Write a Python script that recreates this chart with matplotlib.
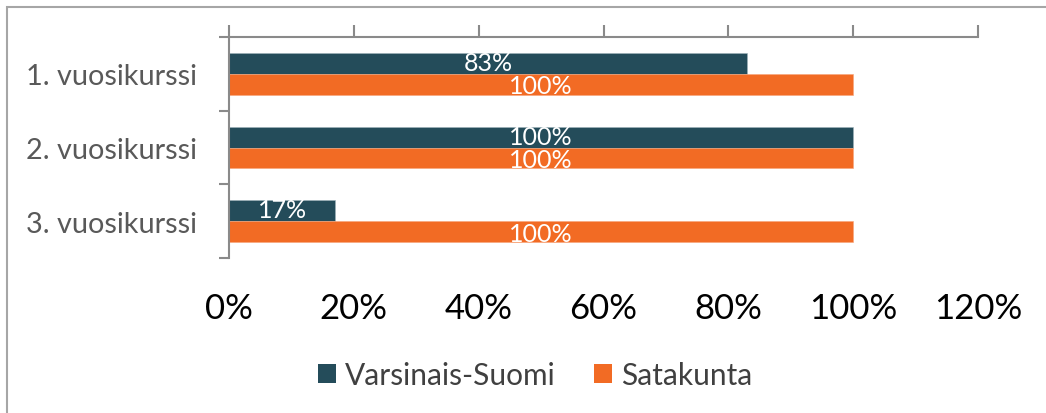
import matplotlib
matplotlib.use("Agg")
import matplotlib.pyplot as plt
from matplotlib.patches import Rectangle
import numpy as np

categories = ["1. vuosikurssi", "2. vuosikurssi", "3. vuosikurssi"]
series_names = ["Varsinais-Suomi", "Satakunta"]
varsinais = [0.83, 1.00, 0.17]
satakunta = [1.00, 1.00, 1.00]
value_labels_v = ["83%", "100%", "17%"]
value_labels_s = ["100%", "100%", "100%"]
xticks = [0, 0.2, 0.4, 0.6, 0.8, 1.0, 1.2]
xtick_labels = ["0%", "20%", "40%", "60%", "80%", "100%", "120%"]

C_DARK = "#244C5A"
C_ORANGE = "#F26B24"
SPINE = "#8A8A8A"

plt.rcParams['font.family'] = ['Lato', 'DejaVu Sans']

W, H = 1046, 414
fig = plt.figure(figsize=(W / 100, H / 100), dpi=100)

# outer frame
fig.patches.append(Rectangle((7 / W, -0.1), 1.2, 1 - 8 / H + 0.1, transform=fig.transFigure,
                             fill=False, edgecolor="#A6A6A6", linewidth=1.5, zorder=0))

ax = fig.add_axes([229 / W, 1 - 259 / H, (978 - 229) / W, (259 - 38) / H])
y = np.arange(len(categories))
h = 0.284
b1 = ax.barh(y - h / 2, varsinais, height=h, color=C_DARK, edgecolor="#9fb3ba", linewidth=0.4, label=series_names[0])
b2 = ax.barh(y + h / 2, satakunta, height=h, color=C_ORANGE, edgecolor="#f7a57a", linewidth=0.4, label=series_names[1])

for rect, lab in zip(b1, value_labels_v):
    ax.text(rect.get_x() + rect.get_width() / 2, rect.get_y() + rect.get_height() / 2 - 0.01, lab,
            ha="center", va="center", color="white", fontsize=18)
for rect, lab in zip(b2, value_labels_s):
    ax.text(rect.get_x() + rect.get_width() / 2, rect.get_y() + rect.get_height() / 2 + 0.02, lab,
            ha="center", va="center", color="white", fontsize=18)

ax.set_xlim(0, 1.2)
ax.set_ylim(len(categories) - 0.5, -0.5)

ax.set_xticks(xticks)
ax.set_xticklabels(xtick_labels, fontsize=25, color="#000000")
ax.tick_params(axis="x", top=True, bottom=False, labeltop=False, labelbottom=True,
               direction="out", length=8.6, width=1.5, color=SPINE, pad=16)

ax.set_yticks(y)
ax.set_yticklabels(categories, fontsize=20.8, color="#595959")
ax.set_yticks(np.arange(-0.5, len(categories), 1.0), minor=True)
ax.tick_params(axis="y", which="major", length=0, pad=23)
ax.tick_params(axis="y", which="minor", length=7, width=1.5, color=SPINE, direction="out")

for s in ["right", "bottom"]:
    ax.spines[s].set_visible(False)
for s in ["top", "left"]:
    ax.spines[s].set_color(SPINE)
    ax.spines[s].set_linewidth(1.5)

leg = fig.legend(handles=[b1, b2], labels=series_names, loc="center",
                 bbox_to_anchor=(535 / W, 1 - 376 / H), ncol=2, frameon=False,
                 fontsize=21.5, handlelength=0.6, handleheight=0.6, handletextpad=0.3,
                 columnspacing=1.3, labelcolor="#404040")
for p in leg.get_patches():
    p.set_edgecolor("none")

fig.savefig("out.png", dpi=100)
